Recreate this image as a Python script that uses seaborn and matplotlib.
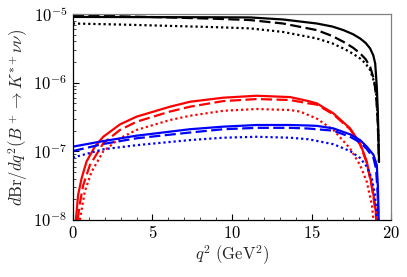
#!/usr/bin/env python3
# dBr/dq^2 for B+ -> K*+ nu nu, three variants per curve family (solid/dashed/dotted).

import numpy as np
import seaborn as sns
import matplotlib.pyplot as plt
from matplotlib.ticker import FixedLocator, FuncFormatter, LogLocator, NullFormatter

# ---- data (q2 in GeV^2) ----
Q2_BLACK_SOLID  = [0, 3, 6, 9, 11.13, 13.2, 15.33, 16.3, 17.0, 17.6, 18.05, 18.4, 18.68,
                   18.88, 19.0, 19.1, 19.16, 19.2, 19.24]
BR_BLACK_SOLID  = [9.1e-6, 9.07e-6, 9.03e-6, 9.0e-6, 8.95e-6, 8.36e-6, 7.3e-6, 6.6e-6,
                   5.85e-6, 5.1e-6, 4.42e-6, 3.8e-6, 3.16e-6, 2.5e-6, 1.9e-6, 8.7e-7,
                   4e-7, 1.8e-7, 7e-8]
Q2_BLACK_DASH   = [0, 3, 6, 9, 11.13, 13.2, 15.33, 16.3, 17.0, 17.6, 18.05, 18.4, 18.68,
                   18.93, 19.06, 19.14, 19.2, 19.23]
BR_BLACK_DASH   = [9.67e-6, 9.3e-6, 8.95e-6, 8.55e-6, 8.2e-6, 7.3e-6, 5.85e-6, 4.8e-6,
                   3.95e-6, 3.25e-6, 2.68e-6, 2.2e-6, 1.71e-6, 1.1e-6, 6.3e-7, 3.2e-7,
                   1.4e-7, 7e-8]
Q2_BLACK_DOT    = [0, 3, 6, 9, 11.13, 13.2, 15.33, 16.3, 17.0, 17.6, 18.05, 18.4, 18.68,
                   18.93, 19.08, 19.16, 19.21]
BR_BLACK_DOT    = [7.3e-6, 7.05e-6, 6.75e-6, 6.45e-6, 6.2e-6, 5.5e-6, 4.42e-6, 3.75e-6,
                   3.16e-6, 2.65e-6, 2.26e-6, 1.9e-6, 1.53e-6, 1.03e-6, 6.3e-7, 3e-7,
                   1.2e-7]

Q2_RED_SOLID    = [0.19, 0.33, 0.55, 0.86, 1.38, 1.91, 2.96, 4.0, 6.1, 7.36, 9.45, 11.55,
                   13.65, 14.8, 15.33, 16.37, 17.42, 18.05, 18.47, 18.79, 18.99, 19.1]
BR_RED_SOLID    = [1.0e-8, 2.31e-8, 4.05e-8, 7.1e-8, 1.17e-7, 1.63e-7, 2.47e-7, 3.2e-7,
                   4.47e-7, 5.28e-7, 6.05e-7, 6.46e-7, 6.18e-7, 5.4e-7, 5.0e-7, 3.58e-7,
                   2.16e-7, 1.31e-7, 7.1e-8, 3.2e-8, 1.65e-8, 1.0e-8]
Q2_RED_DASH     = [0.3, 0.45, 0.65, 1.07, 1.91, 2.96, 4.0, 6.1, 7.36, 9.45, 11.55, 13.65,
                   14.8, 15.33, 16.37, 17.42, 18.05, 18.47, 18.79, 18.98, 19.08]
BR_RED_DASH     = [1.0e-8, 1.8e-8, 3.2e-8, 6.3e-8, 1.31e-7, 2.05e-7, 2.7e-7, 3.8e-7,
                   4.47e-7, 5.4e-7, 5.78e-7, 5.6e-7, 5.0e-7, 4.8e-7, 3.46e-7, 2.1e-7,
                   1.25e-7, 6.8e-8, 3.0e-8, 1.55e-8, 1.0e-8]
Q2_RED_DOT      = [0.44, 0.75, 1.17, 1.91, 2.96, 4.0, 6.1, 7.36, 9.45, 11.55, 13.65, 14.28,
                   15.33, 16.37, 17.42, 18.05, 18.47, 18.79, 18.89]
BR_RED_DOT      = [1.0e-8, 2.6e-8, 5.0e-8, 1.0e-7, 1.55e-7, 2.05e-7, 2.86e-7, 3.3e-7,
                   3.9e-7, 4.14e-7, 4.0e-7, 3.8e-7, 3.0e-7, 2.05e-7, 1.1e-7, 6.3e-8,
                   3.6e-8, 1.65e-8, 1.0e-8]

Q2_BLUE_SOLID   = [0, 1.91, 4.0, 7.36, 9.45, 11.55, 13.65, 14.8, 15.33, 16.37, 17.42,
                   18.05, 18.47, 18.89, 19.1, 19.17, 19.22]
BR_BLUE_SOLID   = [1.17e-7, 1.41e-7, 1.69e-7, 2.1e-7, 2.29e-7, 2.42e-7, 2.42e-7, 2.38e-7,
                   2.35e-7, 2.16e-7, 1.77e-7, 1.46e-7, 1.17e-7, 8.9e-8, 6.3e-8, 3e-8,
                   1.0e-8]
Q2_BLUE_DASH    = [0, 1.91, 4.0, 7.36, 9.45, 11.55, 13.65, 14.8, 16.37, 17.42, 18.05,
                   18.47, 18.89, 19.05, 19.15, 19.2]
BR_BLUE_DASH    = [1.01e-7, 1.28e-7, 1.55e-7, 1.88e-7, 2.1e-7, 2.2e-7, 2.2e-7, 2.15e-7,
                   2.0e-7, 1.63e-7, 1.35e-7, 1.08e-7, 8.0e-8, 5.6e-8, 2.5e-8, 1.0e-8]
Q2_BLUE_DOT     = [0, 1.91, 4.0, 7.36, 9.45, 11.55, 13.65, 14.8, 16.37, 17.42, 18.05,
                   18.47, 18.79, 18.99, 19.1]
BR_BLUE_DOT     = [8.1e-8, 1.07e-7, 1.23e-7, 1.46e-7, 1.58e-7, 1.63e-7, 1.58e-7, 1.5e-7,
                   1.27e-7, 1.01e-7, 8.0e-8, 6.0e-8, 4.0e-8, 2.3e-8, 1.05e-8]

CURVES = [
    (Q2_BLACK_SOLID, BR_BLACK_SOLID, "black", "solid"),
    (Q2_BLACK_DASH,  BR_BLACK_DASH,  "black", "dash"),
    (Q2_BLACK_DOT,   BR_BLACK_DOT,   "black", "dot"),
    (Q2_RED_SOLID,   BR_RED_SOLID,   "red",   "solid"),
    (Q2_RED_DASH,    BR_RED_DASH,    "red",   "dash"),
    (Q2_RED_DOT,     BR_RED_DOT,     "red",   "dot"),
    (Q2_BLUE_SOLID,  BR_BLUE_SOLID,  "blue",  "solid"),
    (Q2_BLUE_DASH,   BR_BLUE_DASH,   "blue",  "dash"),
    (Q2_BLUE_DOT,    BR_BLUE_DOT,    "blue",  "dot"),
]
STYLES = {"solid": "-", "dash": (0, (5, 2)), "dot": (0, (1, 1.3))}


def main():
    sns.set_theme(style="ticks")
    plt.rcParams["font.family"] = ["DejaVu Serif"]
    plt.rcParams["mathtext.fontset"] = "cm"

    fig = plt.figure(figsize=(4.07, 2.77), dpi=100)
    ax = fig.add_axes([0.179, 0.206, 0.782, 0.743])

    for q2, br, col, sty in CURVES:
        sns.lineplot(x=q2, y=br, ax=ax, color=col, linestyle=STYLES[sty],
                     linewidth=1.6, estimator=None, sort=True)

    ax.set_yscale("log")
    ax.set_xlim(0, 20)
    ax.set_ylim(1e-8, 1e-5)

    ax.xaxis.set_major_locator(FixedLocator([0, 5, 10, 15, 20]))
    ax.xaxis.set_minor_locator(FixedLocator(np.arange(0, 21, 1)))
    ax.xaxis.set_major_formatter(FuncFormatter(lambda v, p: f"${v:g}$"))
    ax.yaxis.set_major_locator(LogLocator(base=10, numticks=10))
    ax.yaxis.set_minor_locator(LogLocator(base=10, subs=np.arange(2, 10), numticks=20))
    ax.yaxis.set_major_formatter(FuncFormatter(lambda v, p: f"$10^{{{int(round(np.log10(v)))}}}$"))
    ax.yaxis.set_minor_formatter(NullFormatter())

    ax.tick_params(axis="both", which="major", direction="in", length=4, width=0.8,
                   labelsize=12, colors="black", pad=4)
    ax.tick_params(axis="both", which="minor", direction="in", length=2, width=0.6)

    for side in ("left", "bottom"):
        ax.spines[side].set_color("black")
        ax.spines[side].set_linewidth(0.9)
    for side in ("top", "right"):
        ax.spines[side].set_color("#808080")
        ax.spines[side].set_linewidth(0.9)

    ax.set_xlabel(r"$q^2\ (\mathrm{GeV}^2)$", fontsize=12, labelpad=1)
    ax.set_ylabel(r"$d\mathrm{Br}/dq^2(B^+\to K^{*+}\nu\nu)$", fontsize=12, labelpad=2)

    fig.savefig("out.png", dpi=100)


if __name__ == "__main__":
    main()
